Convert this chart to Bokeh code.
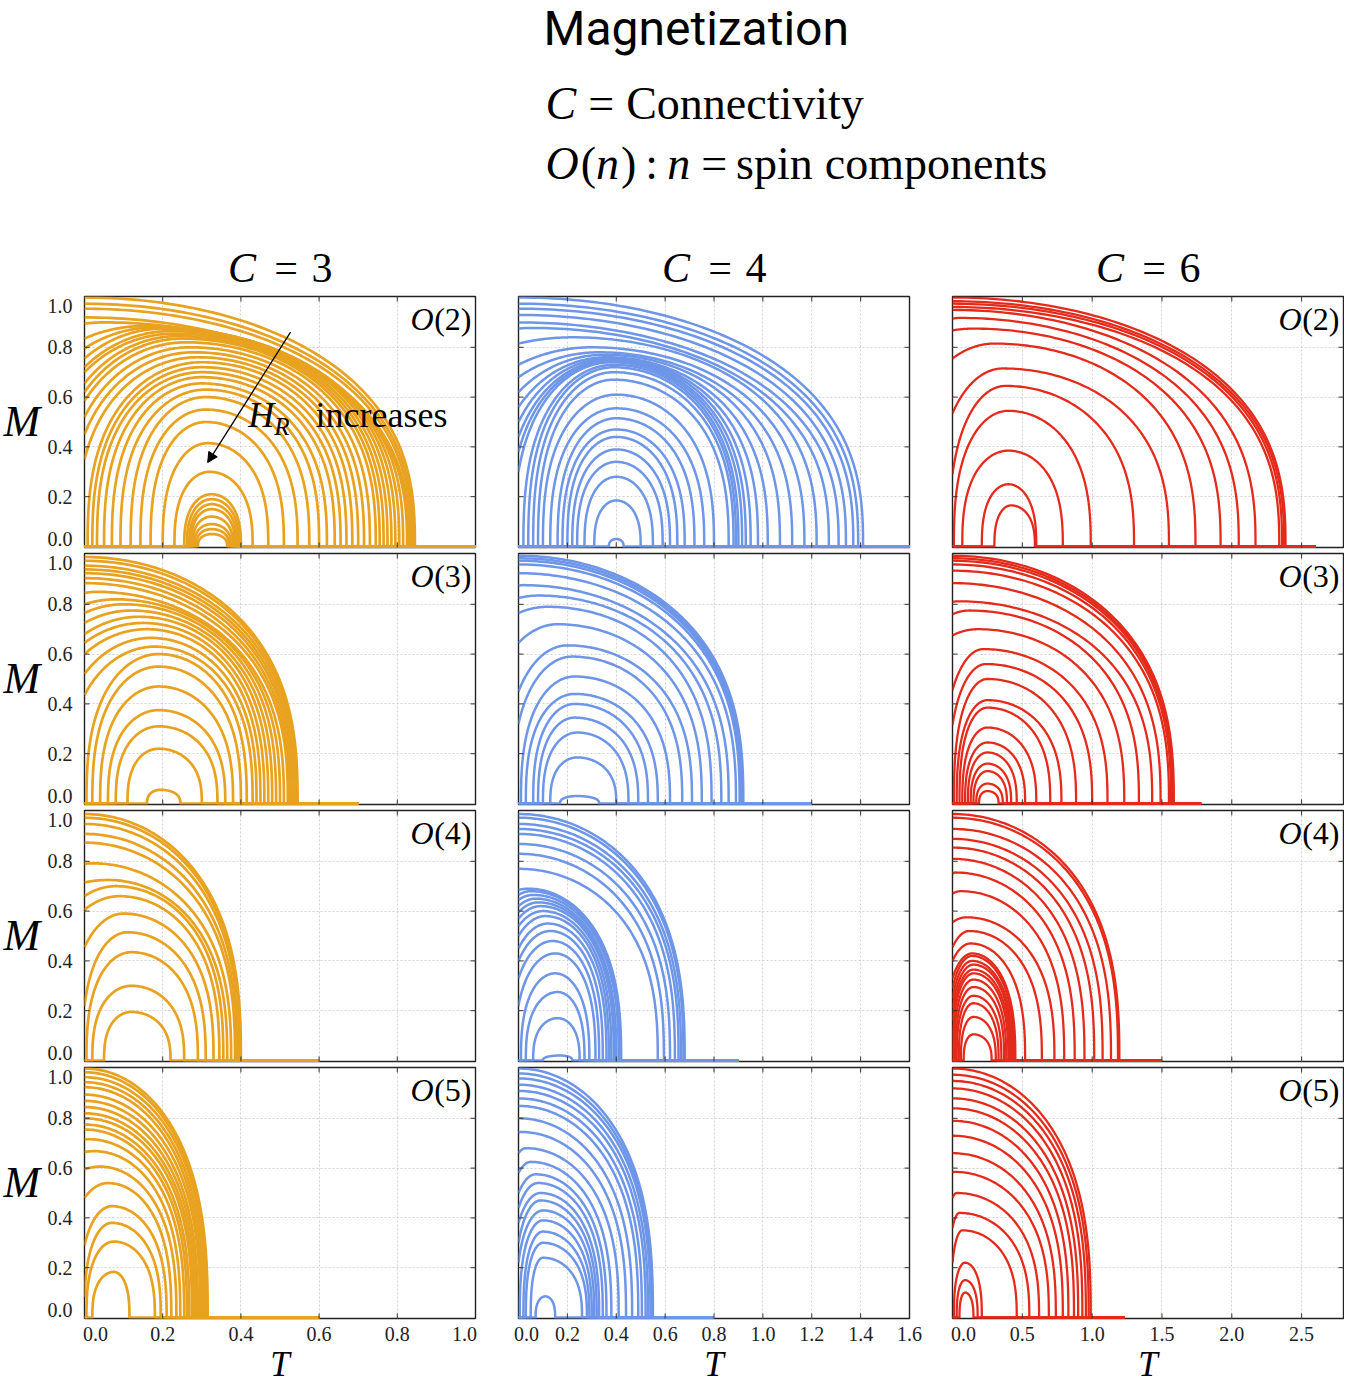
import numpy as np
from bokeh.plotting import figure
from bokeh.layouts import column, row
from bokeh.models import Range1d, FixedTicker, Label, Arrow, NormalHead
from bokeh.core.properties import value
from bokeh.embed import file_html
from bokeh.resources import INLINE

# ---------------------------------------------------------------------------
# Data.
# Each curve: (T at start, M at start, T of peak, M at peak, T where M drops to 0)
# ---------------------------------------------------------------------------
c3_o2 = [
    (0, 1.00, 0, 1.00, 0.845), (0, 0.975, 0, 0.975, 0.84), (0, 0.955, 0, 0.955, 0.835),
    (0, 0.92, 0, 0.92, 0.83), (0, 0.895, 0.05, 0.90, 0.825), (0, 0.835, 0.15, 0.885, 0.815),
    (0, 0.795, 0.18, 0.88, 0.805), (0, 0.755, 0.20, 0.875, 0.795), (0, 0.72, 0.22, 0.865, 0.785),
    (0, 0.70, 0.23, 0.855, 0.775), (0, 0.655, 0.24, 0.845, 0.765), (0, 0.62, 0.25, 0.835, 0.755),
    (0, 0.585, 0.26, 0.82, 0.745), (0, 0.52, 0.27, 0.80, 0.73), (0, 0.45, 0.28, 0.78, 0.715),
    (0, 0.35, 0.29, 0.76, 0.70), (0.008, 0, 0.30, 0.74, 0.685), (0.02, 0, 0.30, 0.72, 0.67),
    (0.032, 0, 0.30, 0.70, 0.655), (0.05, 0, 0.30, 0.68, 0.64), (0.07, 0, 0.30, 0.655, 0.62),
    (0.092, 0, 0.31, 0.63, 0.60), (0.118, 0, 0.31, 0.60, 0.575), (0.143, 0, 0.31, 0.55, 0.545),
    (0.169, 0, 0.31, 0.50, 0.51), (0.20, 0, 0.315, 0.415, 0.47), (0.23, 0, 0.32, 0.30, 0.43),
    (0.255, 0, 0.325, 0.21, 0.40), (0.262, 0, 0.325, 0.19, 0.395), (0.268, 0, 0.325, 0.17, 0.39),
    (0.272, 0, 0.325, 0.15, 0.385), (0.276, 0, 0.325, 0.12, 0.38), (0.28, 0, 0.325, 0.09, 0.375),
    (0.285, 0, 0.325, 0.07, 0.37), (0.29, 0, 0.325, 0.05, 0.365),
]
c4_o2 = [
    (0, 1.00, 0, 1.00, 1.41), (0, 0.975, 0, 0.975, 1.39), (0, 0.955, 0, 0.955, 1.37),
    (0, 0.93, 0, 0.93, 1.34), (0, 0.90, 0, 0.90, 1.31), (0, 0.875, 0.05, 0.878, 1.27),
    (0, 0.815, 0.22, 0.84, 1.22), (0, 0.73, 0.30, 0.80, 1.17), (0, 0.68, 0.33, 0.78, 1.12),
    (0, 0.62, 0.35, 0.77, 1.07), (0, 0.56, 0.36, 0.76, 1.02), (0, 0.50, 0.37, 0.755, 0.98),
    (0, 0.44, 0.38, 0.75, 0.95), (0, 0.38, 0.38, 0.745, 0.93), (0, 0.30, 0.38, 0.74, 0.915),
    (0.02, 0, 0.39, 0.73, 0.90), (0.04, 0, 0.39, 0.72, 0.89), (0.06, 0, 0.39, 0.70, 0.88),
    (0.08, 0, 0.39, 0.67, 0.86), (0.10, 0, 0.40, 0.61, 0.80), (0.13, 0, 0.40, 0.555, 0.76),
    (0.16, 0, 0.40, 0.515, 0.72), (0.18, 0, 0.40, 0.47, 0.68), (0.20, 0, 0.40, 0.44, 0.65),
    (0.22, 0, 0.40, 0.39, 0.62), (0.24, 0, 0.40, 0.34, 0.59), (0.27, 0, 0.40, 0.28, 0.55),
    (0.31, 0, 0.40, 0.185, 0.50), (0.37, 0, 0.40, 0.03, 0.43),
]
c6_o2 = [
    (0, 1.00, 0, 1.00, 2.385), (0, 0.985, 0, 0.985, 2.375), (0, 0.975, 0, 0.975, 2.36),
    (0, 0.962, 0, 0.962, 2.34), (0, 0.95, 0, 0.95, 2.17), (0, 0.915, 0.05, 0.918, 2.05),
    (0, 0.868, 0.15, 0.875, 1.92), (0, 0.755, 0.30, 0.815, 1.74), (0, 0.535, 0.36, 0.715, 1.55),
    (0, 0.29, 0.38, 0.645, 1.30), (0.01, 0, 0.40, 0.545, 0.99), (0.07, 0, 0.40, 0.385, 0.79),
    (0.21, 0, 0.40, 0.25, 0.60), (0.30, 0, 0.42, 0.165, 0.59),
]
c3_o3 = [
    (0, 0.99, 0, 0.99, 0.545), (0, 0.975, 0, 0.975, 0.543), (0, 0.955, 0, 0.955, 0.54),
    (0, 0.94, 0, 0.94, 0.535), (0, 0.925, 0, 0.925, 0.53), (0, 0.905, 0, 0.905, 0.525),
    (0, 0.885, 0, 0.885, 0.52), (0, 0.845, 0.03, 0.85, 0.51), (0, 0.80, 0.08, 0.82, 0.50),
    (0, 0.765, 0.10, 0.80, 0.49), (0, 0.725, 0.12, 0.775, 0.48), (0, 0.68, 0.14, 0.75, 0.47),
    (0, 0.645, 0.15, 0.725, 0.46), (0, 0.60, 0.16, 0.70, 0.45), (0, 0.52, 0.17, 0.665, 0.44),
    (0, 0.435, 0.18, 0.63, 0.43), (0.005, 0, 0.19, 0.60, 0.415), (0.02, 0, 0.19, 0.55, 0.40),
    (0.04, 0, 0.19, 0.47, 0.38), (0.06, 0, 0.19, 0.375, 0.36), (0.08, 0, 0.19, 0.31, 0.34),
    (0.11, 0, 0.19, 0.22, 0.30), (0.16, 0, 0.195, 0.055, 0.245),
]
c4_o3 = [
    (0, 0.995, 0, 0.995, 0.92), (0, 0.985, 0, 0.985, 0.915), (0, 0.975, 0, 0.975, 0.91),
    (0, 0.96, 0, 0.96, 0.905), (0, 0.925, 0, 0.925, 0.89), (0, 0.875, 0.02, 0.877, 0.86),
    (0, 0.825, 0.08, 0.835, 0.83), (0, 0.765, 0.12, 0.79, 0.79), (0, 0.645, 0.16, 0.72, 0.75),
    (0, 0.45, 0.20, 0.635, 0.71), (0, 0.32, 0.22, 0.59, 0.67), (0.01, 0, 0.23, 0.51, 0.62),
    (0.03, 0, 0.23, 0.44, 0.57), (0.06, 0, 0.23, 0.40, 0.53), (0.08, 0, 0.23, 0.345, 0.49),
    (0.10, 0, 0.24, 0.285, 0.45), (0.13, 0, 0.24, 0.185, 0.40), (0.17, 0, 0.24, 0.03, 0.33),
]
c6_o3 = [
    (0, 0.995, 0, 0.995, 1.585), (0, 0.985, 0, 0.985, 1.58), (0, 0.975, 0, 0.975, 1.575),
    (0, 0.96, 0, 0.96, 1.565), (0, 0.935, 0, 0.935, 1.55), (0, 0.885, 0, 0.885, 1.49),
    (0, 0.81, 0.05, 0.812, 1.43), (0, 0.76, 0.12, 0.775, 1.335), (0, 0.675, 0.18, 0.70, 1.23),
    (0, 0.455, 0.22, 0.62, 1.11), (0, 0.315, 0.24, 0.56, 1.00), (0.01, 0, 0.25, 0.50, 0.885),
    (0.03, 0, 0.25, 0.415, 0.78), (0.05, 0, 0.25, 0.385, 0.70), (0.07, 0, 0.25, 0.305, 0.60),
    (0.09, 0, 0.25, 0.245, 0.52), (0.11, 0, 0.25, 0.205, 0.46), (0.13, 0, 0.25, 0.16, 0.42),
    (0.15, 0, 0.25, 0.13, 0.39), (0.17, 0, 0.25, 0.08, 0.36), (0.19, 0, 0.25, 0.05, 0.33),
]
c3_o4 = [
    (0, 0.99, 0, 0.99, 0.40), (0, 0.975, 0, 0.975, 0.398), (0, 0.95, 0, 0.95, 0.395),
    (0, 0.91, 0, 0.91, 0.39), (0, 0.875, 0, 0.875, 0.385), (0, 0.79, 0.02, 0.792, 0.375),
    (0, 0.715, 0.06, 0.725, 0.365), (0, 0.66, 0.08, 0.70, 0.355), (0, 0.605, 0.09, 0.66, 0.345),
    (0, 0.455, 0.10, 0.59, 0.33), (0, 0.22, 0.11, 0.515, 0.31), (0.005, 0, 0.12, 0.435, 0.29),
    (0.02, 0, 0.12, 0.30, 0.255), (0.05, 0, 0.12, 0.195, 0.22),
]
c4_o4 = [
    (0, 0.99, 0, 0.99, 0.68), (0, 0.975, 0, 0.975, 0.675), (0, 0.95, 0, 0.95, 0.665),
    (0, 0.93, 0, 0.93, 0.655), (0, 0.91, 0, 0.91, 0.64), (0, 0.87, 0, 0.87, 0.62),
    (0, 0.83, 0, 0.83, 0.595), (0, 0.77, 0, 0.77, 0.57), (0, 0.685, 0.04, 0.69, 0.42),
    (0, 0.665, 0.05, 0.68, 0.415), (0, 0.645, 0.06, 0.665, 0.41), (0, 0.62, 0.07, 0.65, 0.40),
    (0, 0.595, 0.08, 0.635, 0.395), (0, 0.57, 0.09, 0.62, 0.39), (0, 0.54, 0.10, 0.60, 0.38),
    (0, 0.50, 0.11, 0.58, 0.37), (0, 0.45, 0.12, 0.55, 0.36), (0, 0.40, 0.13, 0.52, 0.345),
    (0, 0.33, 0.14, 0.48, 0.33), (0, 0.22, 0.15, 0.43, 0.315), (0.01, 0, 0.15, 0.35, 0.29),
    (0.03, 0, 0.16, 0.275, 0.27), (0.06, 0, 0.16, 0.17, 0.25), (0.10, 0, 0.17, 0.02, 0.22),
]
c6_o4 = [
    (0, 0.99, 0, 0.99, 1.195), (0, 0.975, 0, 0.975, 1.185), (0, 0.93, 0, 0.93, 1.135),
    (0, 0.89, 0, 0.89, 1.075), (0, 0.855, 0, 0.855, 1.015), (0, 0.81, 0, 0.81, 0.945),
    (0, 0.75, 0.02, 0.755, 0.875), (0, 0.67, 0.06, 0.68, 0.80), (0, 0.555, 0.10, 0.575, 0.73),
    (0, 0.455, 0.12, 0.52, 0.64), (0, 0.40, 0.13, 0.47, 0.52), (0, 0.33, 0.14, 0.43, 0.45),
    (0, 0.29, 0.14, 0.42, 0.44), (0, 0.25, 0.14, 0.40, 0.43), (0, 0.21, 0.15, 0.385, 0.42),
    (0, 0.16, 0.15, 0.365, 0.41), (0.0, 0, 0.15, 0.35, 0.40), (0.01, 0, 0.15, 0.325, 0.385),
    (0.02, 0, 0.15, 0.295, 0.37), (0.03, 0, 0.15, 0.26, 0.35), (0.045, 0, 0.15, 0.23, 0.33),
    (0.06, 0, 0.15, 0.175, 0.31), (0.08, 0, 0.15, 0.105, 0.28),
]
c3_o5 = [
    (0, 1.00, 0, 1.00, 0.315), (0, 0.985, 0, 0.985, 0.313), (0, 0.965, 0, 0.965, 0.31),
    (0, 0.945, 0, 0.945, 0.305), (0, 0.925, 0, 0.925, 0.30), (0, 0.895, 0, 0.895, 0.296),
    (0, 0.87, 0, 0.87, 0.29), (0, 0.845, 0, 0.845, 0.285), (0, 0.82, 0, 0.82, 0.28),
    (0, 0.80, 0, 0.80, 0.275), (0, 0.775, 0, 0.775, 0.268), (0, 0.755, 0, 0.755, 0.262),
    (0, 0.715, 0.01, 0.716, 0.255), (0, 0.665, 0.025, 0.668, 0.245), (0, 0.595, 0.04, 0.606, 0.235),
    (0, 0.48, 0.06, 0.54, 0.222), (0, 0.29, 0.07, 0.447, 0.21), (0, 0.083, 0.07, 0.38, 0.195),
    (0.005, 0, 0.075, 0.305, 0.18), (0.02, 0, 0.075, 0.183, 0.115),
]
c4_o5 = [
    (0, 1.00, 0, 1.00, 0.55), (0, 0.98, 0, 0.98, 0.545), (0, 0.96, 0, 0.96, 0.54),
    (0, 0.935, 0, 0.935, 0.53), (0, 0.91, 0, 0.91, 0.52), (0, 0.88, 0, 0.88, 0.505),
    (0, 0.85, 0, 0.85, 0.49), (0, 0.80, 0, 0.80, 0.465), (0, 0.74, 0.01, 0.745, 0.44),
    (0, 0.66, 0.03, 0.68, 0.41), (0, 0.58, 0.05, 0.625, 0.38), (0, 0.50, 0.07, 0.575, 0.36),
    (0, 0.44, 0.08, 0.54, 0.345), (0, 0.38, 0.09, 0.50, 0.33), (0, 0.30, 0.09, 0.47, 0.32),
    (0, 0.22, 0.10, 0.43, 0.31), (0.005, 0, 0.10, 0.39, 0.30), (0.02, 0, 0.10, 0.345, 0.29),
    (0.03, 0, 0.10, 0.30, 0.28), (0.05, 0, 0.10, 0.24, 0.26), (0.07, 0, 0.11, 0.085, 0.15),
]
c6_o5 = [
    (0, 1.00, 0, 1.00, 0.99), (0, 0.975, 0, 0.975, 0.975), (0, 0.95, 0, 0.95, 0.955),
    (0, 0.92, 0, 0.92, 0.93), (0, 0.88, 0, 0.88, 0.90), (0, 0.84, 0, 0.84, 0.87),
    (0, 0.79, 0, 0.79, 0.83), (0, 0.73, 0, 0.73, 0.79), (0, 0.66, 0, 0.66, 0.74),
    (0, 0.58, 0.01, 0.585, 0.69), (0, 0.48, 0.03, 0.50, 0.62), (0, 0.36, 0.05, 0.42, 0.55),
    (0, 0.22, 0.07, 0.35, 0.46), (0.01, 0, 0.09, 0.22, 0.21), (0.03, 0, 0.09, 0.15, 0.18),
    (0.05, 0, 0.09, 0.10, 0.15),
]

connectivities = [3, 4, 6]
spin_components = [2, 3, 4, 5]
panels_data = [
    [c3_o2, c4_o2, c6_o2],
    [c3_o3, c4_o3, c6_o3],
    [c3_o4, c4_o4, c6_o4],
    [c3_o5, c4_o5, c6_o5],
]
# T up to which the M = 0 baseline is drawn, per panel
zero_line_end = [
    [1.0, 1.6, 2.6],
    [0.70, 1.2, 1.78],
    [0.60, 0.9, 1.5],
    [0.60, 0.8, 1.23],
]
t_axis_max = [1.0, 1.6, 2.8]
x_tick_values = [
    [0.0, 0.2, 0.4, 0.6, 0.8, 1.0],
    [0.0, 0.2, 0.4, 0.6, 0.8, 1.0, 1.2, 1.4, 1.6],
    [0.0, 0.5, 1.0, 1.5, 2.0, 2.5],
]
x_tick_labels = [
    ["0.0", "0.2", "0.4", "0.6", "0.8", "1.0"],
    ["0.0", "0.2", "0.4", "0.6", "0.8", "1.0", "1.2", "1.4", "1.6"],
    ["0.0", "0.5", "1.0", "1.5", "2.0", "2.5"],
]
y_tick_values = [0.0, 0.2, 0.4, 0.6, 0.8, 1.0]
y_tick_labels = ["0.0", "0.2", "0.4", "0.6", "0.8", "1.0"]
colors = ["#E8A21F", "#6D95E8", "#E42B1B"]
line_widths = [2.7, 2.5, 2.3]

arrow_from = (0.527, 0.861)
arrow_to = (0.315, 0.337)

# ---------------------------------------------------------------------------
SERIF = "Liberation Serif"
FW, FH = 391, 251
BETA = 0.38
Y_LO, Y_HI = -0.004, 1.004
TOP_B = 3
BOT_B = [3, 3, 3, 25]
M_W = 44
LEFT_B = [40, 22, 22]
RIGHT_B = [21, 21, 1]
BASE_FIX = 0.34   # the rendered 'alphabetic' baseline sits this many em lower
TOTAL_H = 1384
HEADER_H = 293

# advance widths (per em) of Liberation Serif, used to lay out the header pieces
W_REG = {" ": .25, "(": .333, ")": .333, ":": .278, "=": .564, "a": .444, "c": .444,
         "e": .444, "i": .278, "m": .778, "n": .5, "o": .5, "p": .5, "s": .389,
         "t": .278, "y": .5, "v": .5, "C": .667}
W_IT = {"C": .667, "O": .722, "n": .5}


def curve_xy(ts, ms, tp, mp, te, t_zero_end, n=80):
    xs, ys = [], []
    if ms > 0 and ms >= mp:
        H, Tp, WL = ms, ts, None
        th0 = None
    elif ms > 0:
        H, Tp = mp, tp
        r = np.sqrt(1.0 - (ms / mp) ** (1.0 / BETA))
        WL = (tp - ts) / r
        th0 = np.arccos(r)
    else:
        H, Tp = mp, tp
        WL = tp - ts
        th0 = 0.0
        xs += [0.0, ts]
        ys += [0.0, 0.0]
    if WL is not None:
        th = np.linspace(th0, np.pi / 2, n)
        u = -np.cos(th)
        xs += list(Tp + WL * u)
        ys += list(H * np.clip(1 - u ** 2, 0, None) ** BETA)
    WR = te - Tp
    th = np.linspace(np.pi / 2, np.pi, n)
    u = -np.cos(th)
    xs += list(Tp + WR * u)
    ys += list(H * np.clip(1 - u ** 2, 0, None) ** BETA)
    xs += [te, t_zero_end]
    ys += [0.0, 0.0]
    return [float(v) for v in xs], [float(v) for v in ys]


def data_label(p, x, y, s, size, italic=False, dx=0, dy=0):
    p.add_layout(Label(x=x, y=y, x_offset=dx, y_offset=dy + BASE_FIX * size, text=s,
                       text_font=SERIF, text_font_style="italic" if italic else "normal",
                       text_font_size=f"{size}px", text_baseline="alphabetic",
                       text_color="black"))


def make_panel(ci, ri):
    xmax = t_axis_max[ci]
    left, right, top, bottom = LEFT_B[ci], RIGHT_B[ci], TOP_B, BOT_B[ri]
    p = figure(width=left + FW + right, height=top + FH + bottom, title=None,
               x_range=Range1d(0, xmax), y_range=Range1d(Y_LO, Y_HI),
               min_border_left=left, min_border_right=right,
               min_border_top=top, min_border_bottom=bottom,
               toolbar_location=None, output_backend="svg",
               outline_line_color="#222222", outline_line_width=1.4,
               background_fill_color="white", border_fill_color="white")
    xa, ya = p.xaxis[0], p.yaxis[0]
    for ax in (xa, ya):
        ax.axis_line_color = None
        ax.major_tick_line_color = None
        ax.minor_tick_line_color = None
        ax.major_label_text_font = SERIF
        ax.major_label_text_color = "#222222"
    xa.major_label_text_font_size = "20px"
    ya.major_label_text_font_size = "20px"
    # tick labels at the frame edges are nudged inward, as in the picture
    px_to_t = xmax / FW
    xt = list(x_tick_values[ci])
    xt[0] = xt[0] + (8 if ci == 1 else 11) * px_to_t
    if ci == 0:
        xt[-1] = xt[-1] - 11 * px_to_t
    xa.ticker = FixedTicker(ticks=xt, minor_ticks=[])
    xa.major_label_overrides = {t: s for t, s in zip(xt, x_tick_labels[ci])}
    xa.major_label_standoff = 2
    xa.visible = (ri == 3)
    px_to_m = (Y_HI - Y_LO) / FH
    yt = list(y_tick_values)
    yt[0] = Y_LO + 8.5 * px_to_m
    yt[-1] = Y_HI - 9 * px_to_m
    ya.ticker = FixedTicker(ticks=yt, minor_ticks=[])
    ya.major_label_overrides = {t: s for t, s in zip(yt, y_tick_labels)}
    ya.major_label_standoff = 6
    ya.visible = (ci == 0)

    x_inner = [t for t in x_tick_values[ci] if 0 < t < xmax - 1e-9]
    y_inner = y_tick_values[1:-1]
    p.xgrid.ticker = FixedTicker(ticks=x_inner, minor_ticks=[])
    p.ygrid.ticker = FixedTicker(ticks=y_inner, minor_ticks=[])
    p.grid.grid_line_color = "#c8c8c8"
    p.grid.grid_line_dash = "2 2"
    p.grid.grid_line_width = 0.8

    xs, ys = [], []
    for c in panels_data[ri][ci]:
        x, y = curve_xy(*c, t_zero_end=zero_line_end[ri][ci])
        xs.append(x)
        ys.append(y)
    p.multi_line(xs=xs, ys=ys, line_color=colors[ci], line_width=line_widths[ci],
                 line_join="round")

    # inward tick marks on all four sides
    nx, ny = len(x_inner), len(y_inner)
    p.scatter(x=x_inner * 2, y=[Y_LO] * nx + [Y_HI] * nx, marker="dash", size=10,
              angle=np.pi / 2, line_color="#333333", line_width=1)
    p.scatter(x=[0.0] * ny + [xmax] * ny, y=y_inner * 2, marker="dash", size=10,
              angle=0, line_color="#333333", line_width=1)

    if ci in (0, 2):
        n = spin_components[ri]
        p.add_layout(Label(x=xmax, y=Y_HI, x_offset=-4, y_offset=-4, text=f"({n})",
                           text_align="right", text_baseline="top", text_font=SERIF,
                           text_font_size="32px", text_color="black"))
        p.add_layout(Label(x=xmax, y=Y_HI, x_offset=-42, y_offset=-4, text="O",
                           text_align="right", text_baseline="top", text_font=SERIF,
                           text_font_style="italic", text_font_size="32px",
                           text_color="black"))
    if ci == 0 and ri == 0:
        p.add_layout(Arrow(end=NormalHead(size=10, fill_color="black", line_color="black",
                                          line_width=1),
                           x_start=arrow_from[0], y_start=arrow_from[1],
                           x_end=arrow_to[0], y_end=arrow_to[1],
                           line_color="black", line_width=1.3))
        data_label(p, 0.419, 0.48, "H", 36, italic=True)
        data_label(p, 0.419, 0.48, "R", 25, italic=True, dx=26, dy=-8)
        data_label(p, 0.591, 0.48, "increases", 36)
    return p


def blank(width, height):
    p = figure(width=width, height=height, x_range=Range1d(0, width), title=None,
               y_range=Range1d(height, 0), min_border=0, toolbar_location=None,
               output_backend="svg", outline_line_color=None,
               background_fill_color="white", border_fill_color="white")
    p.axis.visible = False
    p.grid.visible = False
    return p


def put(p, x, y, s, size, font=SERIF, style="normal", align="left"):
    p.text(x=[x], y=[y - BASE_FIX * size], text=[s], text_font=value(font),
           text_font_size=f"{size}px", text_font_style=style, text_align=align,
           text_baseline="alphabetic", text_color="black")


def put_seq(p, x, y, pieces, size):
    """pieces: (text, italic, gap_after_px); laid out left to right."""
    for s, it, gap in pieces:
        put(p, x, y, s, size, style="italic" if it else "normal")
        table = W_IT if it else W_REG
        x += sum(table.get(ch, 0.5) for ch in s) * size + gap + (2 if it else 0)


TOTAL_W = M_W + sum(LEFT_B) + sum(RIGHT_B) + 3 * FW
frame_left = [M_W + LEFT_B[0],
              M_W + LEFT_B[0] + FW + RIGHT_B[0] + LEFT_B[1],
              M_W + LEFT_B[0] + FW + RIGHT_B[0] + LEFT_B[1] + FW + RIGHT_B[1] + LEFT_B[2]]
col_centers = [fl + FW / 2 for fl in frame_left]

header = blank(TOTAL_W, HEADER_H)
put(header, 543, 44, "Magnetization", 48, font="Roboto")
put_seq(header, 545, 119, [("C", True, 10), ("=", False, 12), ("Connectivity", False, 0)], 46)
put_seq(header, 545, 179, [("O", True, 0), ("(", False, 0), ("n", True, 0), (")", False, 9),
                           (":", False, 9), ("n", True, 9), ("=", False, 9),
                           ("spin", False, 12), ("components", False, 0)], 46)
for cx, c in zip(col_centers, connectivities):
    put(header, cx - 52, 282, "C", 42, style="italic")
    put(header, cx + 6, 282, "=", 42, align="center")
    put(header, cx + 42, 282, str(c), 42, align="center")

rows = []
for ri in range(4):
    h = TOP_B + FH + BOT_B[ri]
    mfig = blank(M_W, h)
    put(mfig, 3, TOP_B + FH / 2 + 14.5, "M", 44, style="italic")
    rows.append(row(mfig, *[make_panel(ci, ri) for ci in range(3)]))

T_H = TOTAL_H - HEADER_H - sum(TOP_B + FH + b for b in BOT_B)
tfig = blank(TOTAL_W, T_H)
for cx in col_centers:
    put(tfig, cx, T_H - 8, "T", 35, style="italic", align="center")

layout = column(header, *rows, tfig)
open("out.html", "w").write(file_html(layout, INLINE, title="Magnetization"))
